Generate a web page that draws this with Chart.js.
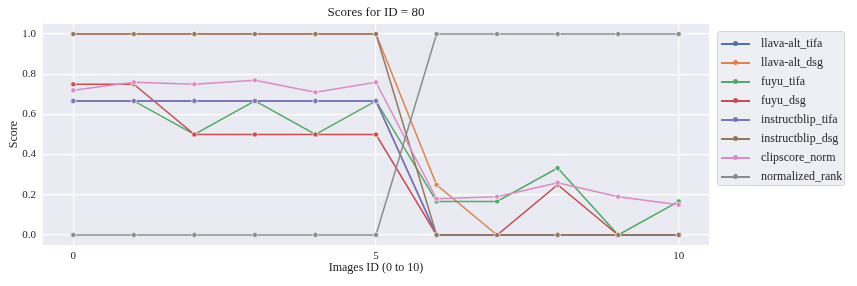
<!DOCTYPE html>
<html>
<head>
<meta charset="utf-8">
<script src="https://cdn.jsdelivr.net/npm/chart.js@4.4.1/dist/chart.umd.min.js"></script>
<style>
  html,body{margin:0;padding:0;background:#fff;}
  #wrap{position:relative;width:857px;height:286px;}
  #legend{position:absolute;left:717px;top:31px;width:128px;height:155px;box-sizing:border-box;
    border:1px solid #d4d4d4;border-radius:3px;background:rgba(234,234,242,0.8);
    font-family:"Liberation Serif",serif;font-size:12px;color:#262626;padding-top:2px;}
  .row{height:19px;display:flex;align-items:center;}
  .sw{position:relative;width:29px;height:2px;margin-left:3px;margin-right:11px;}
  .sw i{position:absolute;left:12px;top:-2px;width:5px;height:5px;border-radius:50%;}
</style>
</head>
<body>
<div id="wrap">
  <canvas id="myChart" width="857" height="286"></canvas>
  <div id="legend"></div>
</div>
<script>
// image ids on x
const imageIds=[0,1,2,3,4,5,6,7,8,9,10];

const names=["llava-alt_tifa","llava-alt_dsg","fuyu_tifa","fuyu_dsg","instructblip_tifa","instructblip_dsg","clipscore_norm","normalized_rank"];

const llavaTifa=[0.667,0.667,0.667,0.667,0.667,0.667,0,0,0,0,0];
const llavaDsg=[1,1,1,1,1,1,0.25,0,0,0,0];
const fuyuTifa=[0.667,0.667,0.5,0.667,0.5,0.667,0.167,0.167,0.333,0,0.167];
const fuyuDsg=[0.75,0.75,0.5,0.5,0.5,0.5,0,0,0.25,0,0];
const instructTifa=[0.667,0.667,0.667,0.667,0.667,0.667,0,0,0,0,0];
const instructDsg=[1,1,1,1,1,1,0,0,0,0,0];
const clipNorm=[0.72,0.76,0.75,0.77,0.71,0.76,0.18,0.19,0.26,0.19,0.15];
const normRank=[0,0,0,0,0,0,1,1,1,1,1];

const xTicks=[0,5,10];
const yTicks=[0,0.2,0.4,0.6,0.8,1.0];

var allSeries=[llavaTifa,llavaDsg,fuyuTifa,fuyuDsg,instructTifa,instructDsg,clipNorm,normRank];
var colors=["#4C72B0","#DD8452","#55A868","#C44E52","#8172B3","#937860","#DA8BC3","#8C8C8C"];

var datasets=[];
for(let i=0;i<names.length;i++){
  datasets.push({
    label:names[i],
    data:allSeries[i].map((v,j)=>({x:imageIds[j],y:v})),
    borderColor:colors[i],
    backgroundColor:colors[i],
    pointBackgroundColor:colors[i],
    pointBorderColor:"#ffffff",
    pointBorderWidth:0.7,
    pointRadius:2.6,
    borderWidth:1.5,
    tension:0,
    order:names.length-i   // later series on top, like seaborn
  });
}

// grey plot background
const bgPlugin={
  id:"bg",
  beforeDraw(chart){
    const a=chart.chartArea, ctx=chart.ctx;
    ctx.save();
    ctx.fillStyle="#EAEAF2";
    ctx.fillRect(a.left,a.top,a.right-a.left,a.bottom-a.top);
    ctx.restore();
  }
};

const serif="'Liberation Serif', serif";

new Chart("myChart",{
  type:"line",
  data:{datasets:datasets},
  plugins:[bgPlugin],
  options:{
    responsive:false,
    animation:false,
    layout:{padding:{left:0,right:148,top:0,bottom:0}},
    plugins:{
      legend:{display:false},
      tooltip:{enabled:false},
      title:{
        display:true,
        text:"Scores for ID = 80",
        fullSize:false,
        color:"#1a1a1a",
        font:{family:serif,size:13,weight:"normal"},
        padding:{top:5,bottom:3.4}
      }
    },
    scales:{
      x:{
        type:"linear",
        min:-0.5,max:10.5,
        afterBuildTicks(s){ s.ticks=xTicks.map(v=>({value:v})); },
        afterFit(s){ s.height=41; },
        grid:{color:"#ffffff",lineWidth:1.2,drawTicks:false},
        border:{display:false},
        ticks:{color:"#262626",padding:5,font:{family:serif,size:11},maxRotation:0},
        title:{display:true,text:"Images ID (0 to 10)",color:"#1a1a1a",
          font:{family:serif,size:12},padding:{top:0,bottom:11}}
      },
      y:{
        min:-0.05,max:1.05,
        afterBuildTicks(s){ s.ticks=yTicks.map(v=>({value:v})); },
        afterFit(s){ s.width=43; },
        grid:{color:"#ffffff",lineWidth:1.2,drawTicks:false},
        border:{display:false},
        ticks:{color:"#262626",padding:7,font:{family:serif,size:11},
          callback:v=>v.toFixed(1)},
        title:{display:true,text:"Score",color:"#1a1a1a",
          font:{family:serif,size:12},padding:{top:7,bottom:0}}
      }
    }
  }
});

// legend box on the right
var lg=document.getElementById("legend");
for(let i=0;i<names.length;i++){
  var r=document.createElement("div");
  r.className="row";
  r.innerHTML='<span class="sw" style="background:'+colors[i]+'"><i style="background:'+colors[i]+'"></i></span>'+names[i];
  lg.appendChild(r);
}
</script>
</body>
</html>
